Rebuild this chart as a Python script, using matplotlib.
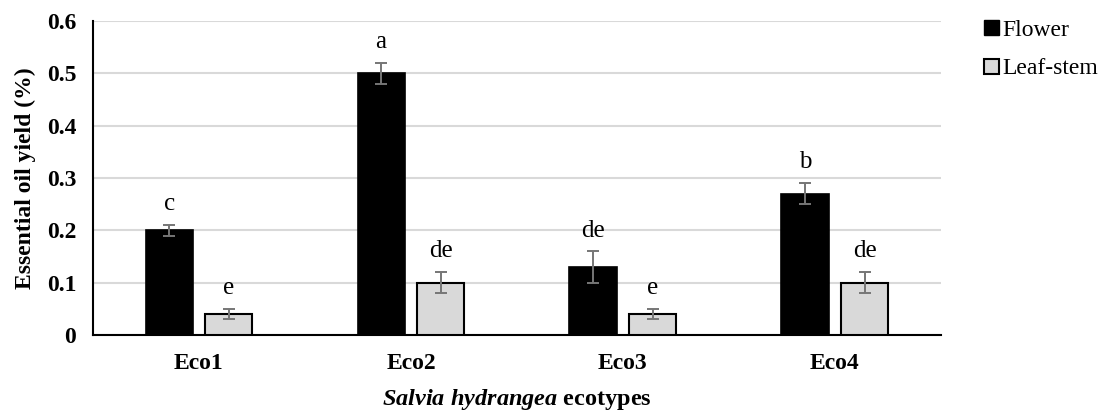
import numpy as np
import matplotlib
matplotlib.use("Agg")
import matplotlib.pyplot as plt
from matplotlib.patches import Patch

plt.rcParams["font.family"] = ["Liberation Serif", "DejaVu Serif"]
plt.rcParams["mathtext.fontset"] = "custom"
plt.rcParams["mathtext.it"] = "Liberation Serif:italic:bold"
plt.rcParams["mathtext.rm"] = "Liberation Serif:bold"

ecotypes = ["Eco1", "Eco2", "Eco3", "Eco4"]
flower = [0.20, 0.50, 0.13, 0.27]
flower_err = [0.01, 0.02, 0.03, 0.02]
leaf_stem = [0.04, 0.10, 0.04, 0.10]
leaf_stem_err = [0.01, 0.02, 0.01, 0.02]
flower_letters = ["c", "a", "de", "b"]
leaf_letters = ["e", "de", "e", "de"]

fig = plt.figure(figsize=(11.03, 4.12), dpi=100)
ax = fig.add_axes([0.0843, 0.187, 0.7687, 0.762])

x = np.arange(len(ecotypes))
w = 0.222
off = 0.141

err_kw = dict(ecolor="#767676", elinewidth=1.4, capsize=4.5, capthick=1.4)
ax.bar(x - off, flower, w, color="black", edgecolor="black", linewidth=1.2,
       yerr=flower_err, error_kw=err_kw, zorder=3)
ax.bar(x + off, leaf_stem, w, color="#d9d9d9", edgecolor="black", linewidth=1.5,
       yerr=leaf_stem_err, error_kw=err_kw, zorder=3)

for i in range(len(ecotypes)):
    ax.annotate(flower_letters[i], (x[i] - off, flower[i] + flower_err[i]),
                xytext=(0, 7), textcoords="offset points", ha="center",
                va="bottom", fontsize=18)
    ax.annotate(leaf_letters[i], (x[i] + off, leaf_stem[i] + leaf_stem_err[i]),
                xytext=(0, 7), textcoords="offset points", ha="center",
                va="bottom", fontsize=18)

ax.set_xlim(-0.5, len(ecotypes) - 0.5)
ax.set_ylim(0, 0.6)
ax.set_yticks(np.arange(0, 0.61, 0.1))
ax.set_yticklabels(["0", "0.1", "0.2", "0.3", "0.4", "0.5", "0.6"],
                   fontsize=17, fontweight="bold")
ax.set_xticks(x)
ax.set_xticklabels(ecotypes, fontsize=17, fontweight="bold")
ax.tick_params(axis="both", length=0)
ax.tick_params(axis="x", pad=13)
ax.tick_params(axis="y", pad=12)

ax.yaxis.grid(True, color="#d9d9d9", linewidth=1.5, zorder=0)
ax.set_axisbelow(True)
for s in ["top", "right"]:
    ax.spines[s].set_visible(False)
ax.spines["left"].set_linewidth(1.5)
ax.spines["bottom"].set_linewidth(1.5)

ax.set_ylabel("Essential oil yield (%)", fontsize=17, fontweight="bold", labelpad=8)
ax.set_xlabel(r"$Salvia\ hydrangea$ ecotypes", fontsize=17.5,
              fontweight="bold", labelpad=9)

handles = [Patch(facecolor="black", edgecolor="black", label="Flower"),
           Patch(facecolor="#d9d9d9", edgecolor="black", linewidth=1.5, label="Leaf-stem")]
fig.legend(handles=handles, loc="upper left", bbox_to_anchor=(0.884, 0.975),
           frameon=False, prop={"family": "Liberation Serif", "size": 17},
           handlelength=0.6, handleheight=0.6,
           handletextpad=0.15, labelspacing=0.75, borderaxespad=0)

fig.savefig("out.png", dpi=100)
